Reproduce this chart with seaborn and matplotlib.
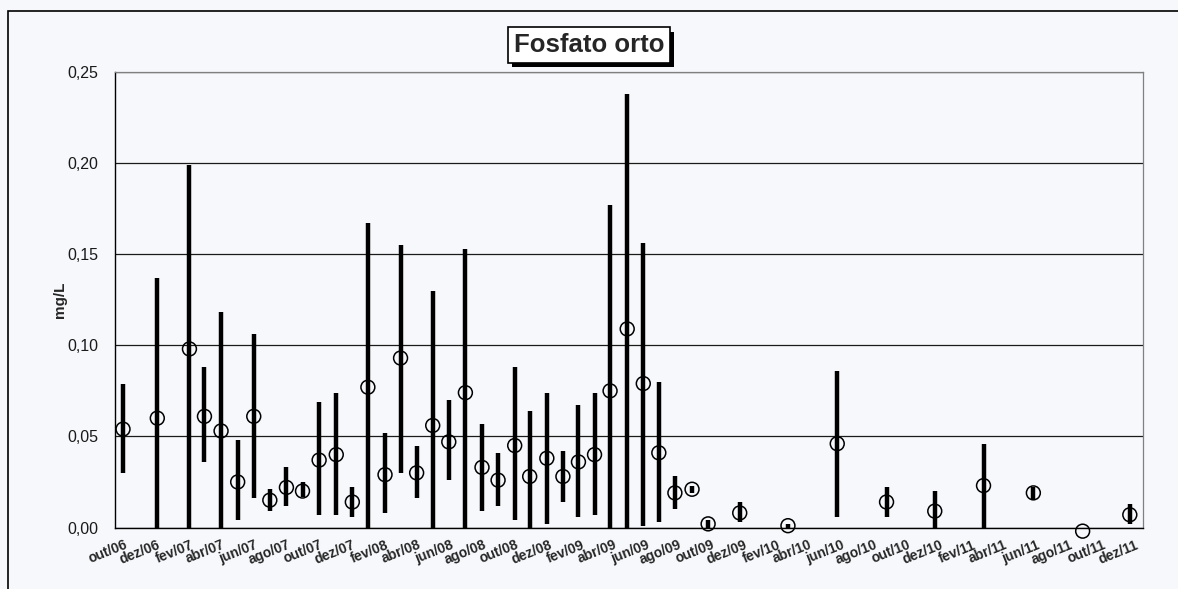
import matplotlib
matplotlib.use("Agg")
import matplotlib.pyplot as plt
import matplotlib.dates as mdates
import matplotlib.patheffects as pe
from matplotlib.patches import Rectangle
from matplotlib.ticker import FuncFormatter, MultipleLocator
from matplotlib.transforms import ScaledTranslation
import pandas as pd
import seaborn as sns

# data (mg/L)
datas = [
    "2006-10-16", "2006-12-19", "2007-02-17", "2007-03-17", "2007-04-17",
    "2007-05-18", "2007-06-17", "2007-07-17", "2007-08-17", "2007-09-16",
    "2007-10-17", "2007-11-18", "2007-12-18", "2008-01-16", "2008-02-17",
    "2008-03-17", "2008-04-16", "2008-05-16", "2008-06-15", "2008-07-16",
    "2008-08-16", "2008-09-15", "2008-10-16", "2008-11-13", "2008-12-15",
    "2009-01-14", "2009-02-12", "2009-03-14", "2009-04-12", "2009-05-14",
    "2009-06-13", "2009-07-12", "2009-08-11", "2009-09-12", "2009-10-12",
    "2009-12-10", "2010-03-10", "2010-06-10", "2010-09-10", "2010-12-09",
    "2011-03-10", "2011-06-11", "2011-09-11", "2011-12-08",
]
maximo = [
    0.079, 0.137, 0.199, 0.088, 0.118, 0.048, 0.106, 0.021, 0.033, 0.025,
    0.069, 0.074, 0.022, 0.167, 0.052, 0.155, 0.045, 0.130, 0.070, 0.153,
    0.057, 0.041, 0.088, 0.064, 0.074, 0.042, 0.067, 0.074, 0.177, 0.238,
    0.156, 0.080, 0.028, 0.023, 0.004, 0.014, 0.002, 0.086, 0.022, 0.020,
    0.046, 0.022, 0.000, 0.013,
]
minimo = [
    0.030, 0.000, 0.000, 0.036, 0.000, 0.004, 0.016, 0.009, 0.012, 0.017,
    0.007, 0.007, 0.006, 0.000, 0.008, 0.030, 0.016, 0.000, 0.026, 0.000,
    0.009, 0.012, 0.004, 0.000, 0.002, 0.014, 0.006, 0.007, 0.000, 0.000,
    0.001, 0.003, 0.010, 0.019, 0.000, 0.003, 0.000, 0.006, 0.006, 0.000,
    0.000, 0.015, 0.000, 0.002,
]
media = [
    0.054, 0.060, 0.098, 0.061, 0.053, 0.025, 0.061, 0.015, 0.022, 0.020,
    0.037, 0.040, 0.014, 0.077, 0.029, 0.093, 0.030, 0.056, 0.047, 0.074,
    0.033, 0.026, 0.045, 0.028, 0.038, 0.028, 0.036, 0.040, 0.075, 0.109,
    0.079, 0.041, 0.019, 0.021, 0.002, 0.008, 0.001, 0.046, 0.014, 0.009,
    0.023, 0.019, -0.002, 0.007,
]
meses = ["jan", "fev", "mar", "abr", "mai", "jun",
         "jul", "ago", "set", "out", "nov", "dez"]
titulo = "Fosfato orto"
unidade = "mg/L"

df = pd.DataFrame(dict(data=pd.to_datetime(datas), max=maximo,
                       min=minimo, media=media))

sns.set_style("white")
plt.rcParams["font.family"] = ["Liberation Sans", "DejaVu Sans"]
bg = "#f6f8fb"

fig = plt.figure(figsize=(11.78, 5.89), dpi=100, facecolor=bg)
ax = fig.add_axes([0.0976, 0.1044, 0.8724, 0.7734], facecolor=bg)

# outer chart frame (runs off the right and bottom edges)
fig.patches.append(Rectangle((8 / 1178, -0.5), 2.0, 1.5 - 11 / 589,
                             transform=fig.transFigure, fill=False,
                             edgecolor="black", lw=1.2))

ax.vlines(df["data"], df["min"], df["max"], color="black", lw=3.2, zorder=3)
sns.scatterplot(data=df, x="data", y="media", ax=ax, marker="o", s=100,
                facecolor="none", edgecolor="black", linewidth=1.1,
                zorder=4, clip_on=False, legend=False)

ax.set_ylim(0, 0.25)
ax.set_xlim(pd.Timestamp("2006-10-01"), pd.Timestamp("2012-01-01"))
ax.yaxis.set_major_locator(MultipleLocator(0.05))
ax.yaxis.set_major_formatter(
    FuncFormatter(lambda v, p: f"{v:.2f}".replace(".", ",")))
ax.xaxis.set_major_locator(mdates.MonthLocator(bymonth=[2, 4, 6, 8, 10, 12]))
ax.xaxis.set_major_formatter(FuncFormatter(
    lambda v, p: f"{meses[mdates.num2date(v).month - 1]}/{mdates.num2date(v):%y}"))

ax.grid(axis="y", color="#1a1a1a", lw=0.9)
ax.set_axisbelow(True)
ax.get_ygridlines()[-1].set_visible(False)

for s in ["left", "bottom"]:
    ax.spines[s].set_color("black")
    ax.spines[s].set_linewidth(1.0)
for s in ["top", "right"]:
    ax.spines[s].set_color("#808080")
    ax.spines[s].set_linewidth(0.9)

ax.tick_params(axis="y", direction="out", length=4, width=1, pad=8,
               labelsize=11.5, colors="#1a1a1a")
ax.tick_params(axis="x", direction="inout", length=7, width=1, pad=4,
               labelsize=10)
off = ScaledTranslation(9 / 100, 0, fig.dpi_scale_trans)
for lab in ax.get_xticklabels():
    lab.set_rotation(22)
    lab.set_ha("right")
    lab.set_va("top")
    lab.set_rotation_mode("anchor")
    lab.set_fontweight("bold")
    lab.set_transform(lab.get_transform() + off)

ax.set_xlabel("")
ax.set_ylabel("")
fig.text(60 / 1178, 1 - 300 / 589, unidade, rotation=90, ha="center",
         va="center", fontsize=11, fontweight="bold")

t = fig.text(589 / 1178, 1 - 45 / 589, titulo, ha="center", va="center",
             fontsize=18.5, fontweight="bold",
             bbox=dict(boxstyle="square,pad=0.22", facecolor="white",
                       edgecolor="black", lw=1.2))
t.get_bbox_patch().set_path_effects([
    pe.SimplePatchShadow(offset=(3, -3), shadow_rgbFace="black", alpha=1),
    pe.Normal()])

fig.savefig("out.png", dpi=100, facecolor=bg)
